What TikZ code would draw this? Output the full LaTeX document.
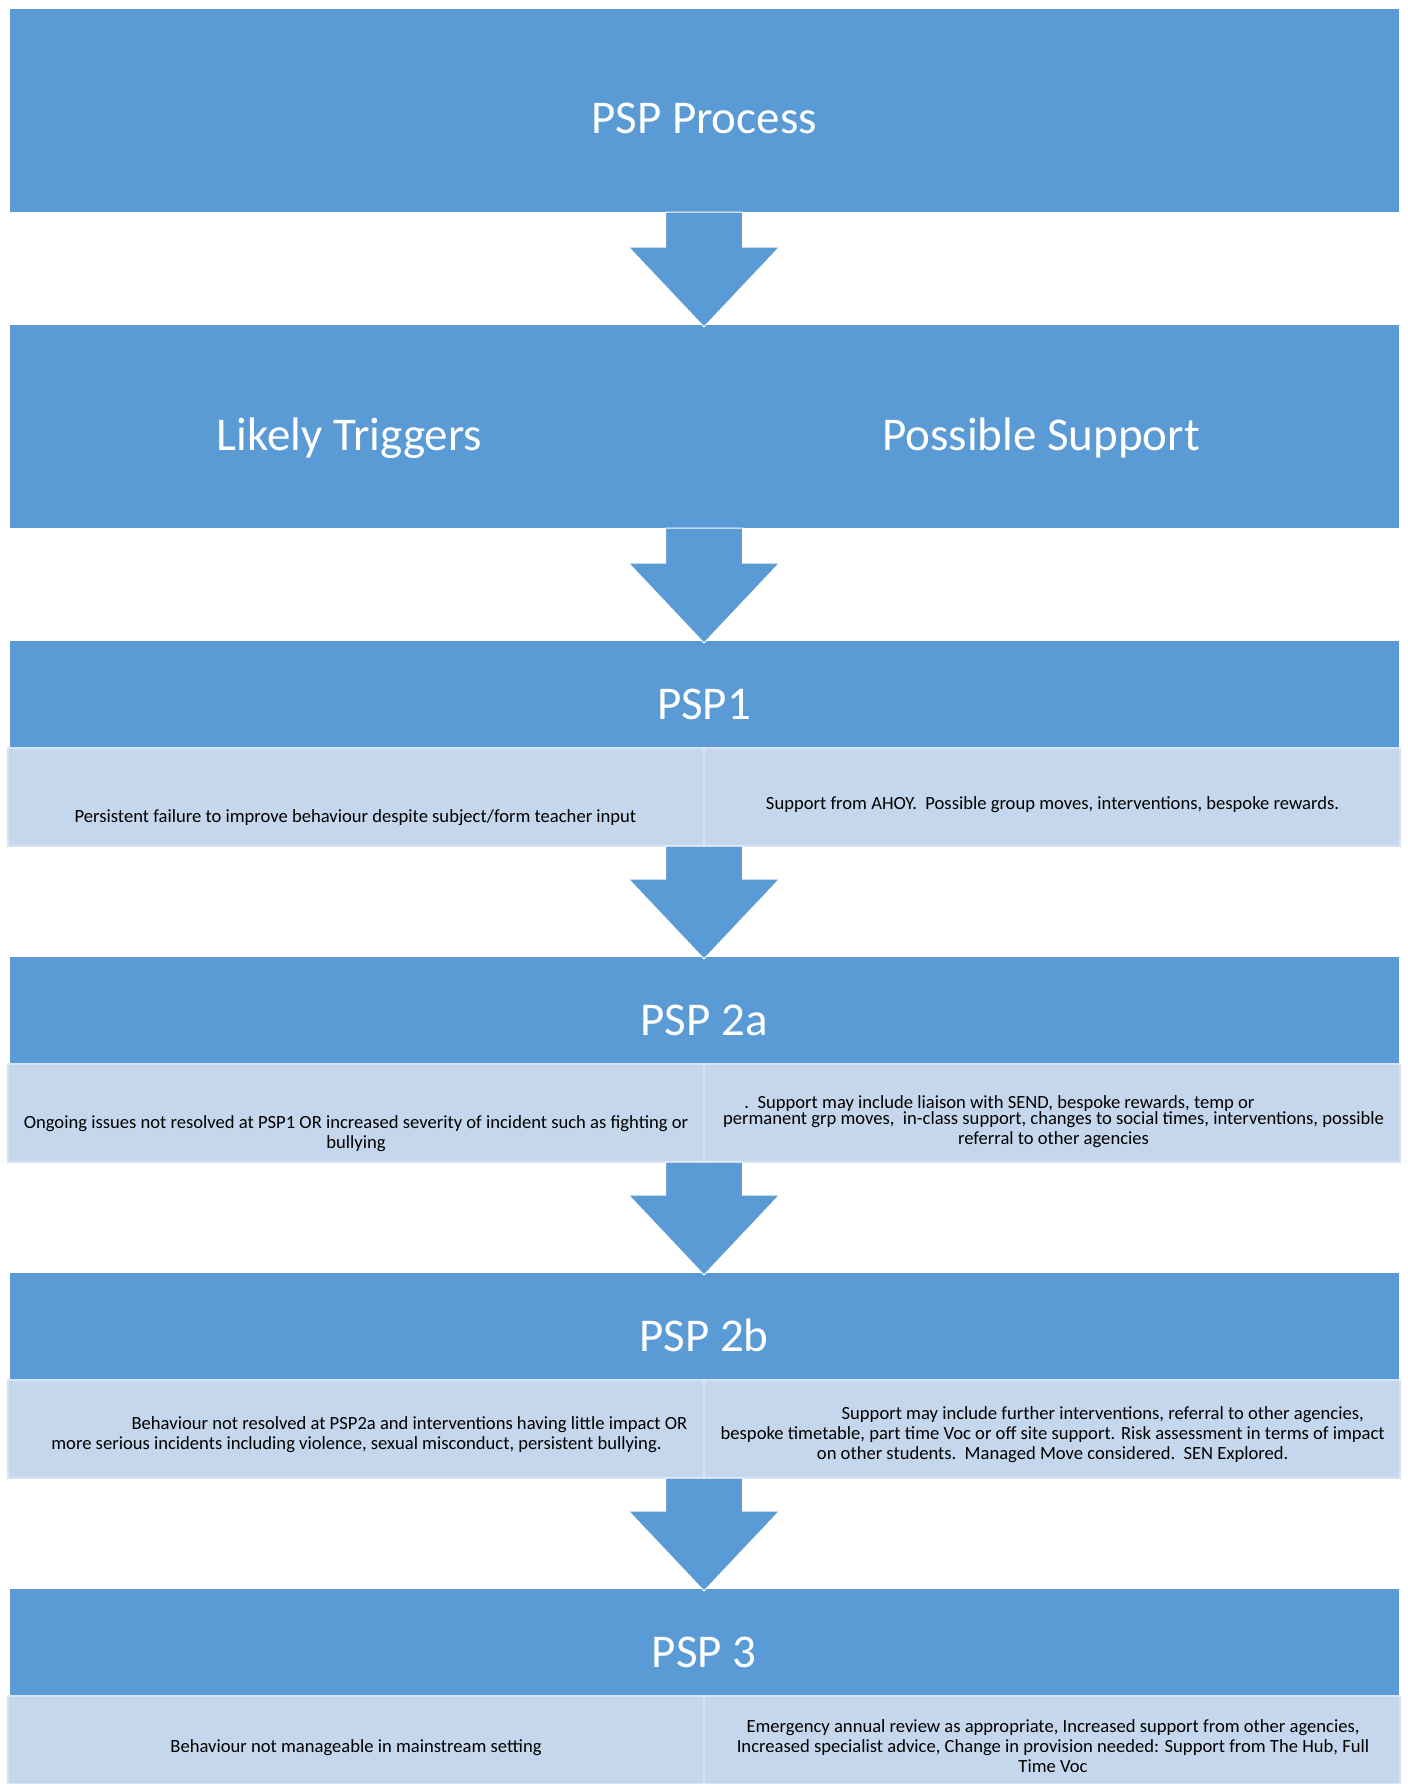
\documentclass[tikz,border=0pt]{standalone}
\usepackage{fontspec}
\setmainfont{Carlito}
\definecolor{psblue}{RGB}{91,155,213}
\definecolor{pslight}{RGB}{197,215,236}
\definecolor{psedge}{RGB}{216,228,243}
\begin{document}
\begin{tikzpicture}[x=0.5pt,y=-0.5pt,inner sep=0pt,outer sep=0pt,
bigbox/.style={rectangle,fill=psblue,draw=white,line width=.5pt,minimum width=695pt,minimum height=102pt,anchor=north},
headbox/.style={bigbox,minimum height=54pt},
infobox/.style={rectangle,fill=pslight,draw=psedge,line width=1pt,minimum width=696pt,minimum height=49pt,anchor=north},
headtext/.style={text=white,font=\fontsize{23.5}{28}\selectfont,anchor=base},
celltext/.style={align=center,font=\fontsize{9.3}{10}\selectfont},
flowarrow/.style={fill=psblue,draw=white,line width=.5pt}]

\useasboundingbox (0,0) rectangle (1408,1784);

\draw (704,8) node[bigbox] (proc) {};
\draw (704,324) node[bigbox] (trig) {};
\draw (704,640) node[headbox] (pspone) {};
\draw (704,748) node[infobox] (oneinfo) {};
\draw (704,956) node[headbox] (psptwoa) {};
\draw (704,1064) node[infobox] (twoainfo) {};
\draw (704,1272) node[headbox] (psptwob) {};
\draw (704,1380) node[infobox] (twobinfo) {};
\draw (704,1588) node[headbox] (pspthree) {};
\draw (704,1696) node[infobox,minimum height=44pt] (threeinfo) {};

\draw[psedge,line width=1pt] (oneinfo.north) -- (oneinfo.south);
\draw[psedge,line width=1pt] (twoainfo.north) -- (twoainfo.south);
\draw[psedge,line width=1pt] (twobinfo.north) -- (twobinfo.south);
\draw[psedge,line width=1pt] (threeinfo.north) -- (threeinfo.south);

\draw[flowarrow] ([xshift=-19.25pt]proc.south) |- ([xshift=-37.75pt,yshift=38.5pt]trig.north) -- ([yshift=-1.5pt]trig.north) -- ([xshift=37.75pt,yshift=38.5pt]trig.north) -| ([xshift=19.25pt]proc.south) -- cycle;
\draw[flowarrow] ([xshift=-19.25pt]trig.south) |- ([xshift=-37.75pt,yshift=38.5pt]pspone.north) -- ([yshift=-1.5pt]pspone.north) -- ([xshift=37.75pt,yshift=38.5pt]pspone.north) -| ([xshift=19.25pt]trig.south) -- cycle;
\draw[flowarrow] ([xshift=-19.25pt]oneinfo.south) |- ([xshift=-37.75pt,yshift=38.5pt]psptwoa.north) -- ([yshift=-1.5pt]psptwoa.north) -- ([xshift=37.75pt,yshift=38.5pt]psptwoa.north) -| ([xshift=19.25pt]oneinfo.south) -- cycle;
\draw[flowarrow] ([xshift=-19.25pt]twoainfo.south) |- ([xshift=-37.75pt,yshift=38.5pt]psptwob.north) -- ([yshift=-1.5pt]psptwob.north) -- ([xshift=37.75pt,yshift=38.5pt]psptwob.north) -| ([xshift=19.25pt]twoainfo.south) -- cycle;
\draw[flowarrow] ([xshift=-19.25pt]twobinfo.south) |- ([xshift=-37.75pt,yshift=38.5pt]pspthree.north) -- ([yshift=-1.5pt]pspthree.north) -- ([xshift=37.75pt,yshift=38.5pt]pspthree.north) -| ([xshift=19.25pt]twobinfo.south) -- cycle;

\draw (704,133) node[headtext] (proctext) {PSP Process};
\draw (349.5,450) node[headtext] (trigleft) {Likely Triggers};
\draw (1041,450) node[headtext] (trigright) {Possible Support};
\draw (704,719) node[headtext] (ponetext) {PSP1};
\draw (704,1035) node[headtext] (ptwoatext) {PSP 2a};
\draw (704,1351) node[headtext] (ptwobtext) {PSP 2b};
\draw (704,1667) node[headtext] (pthreetext) {PSP 3};

\draw (355.5,817.5) node[celltext] (oneleft) {Persistent failure to improve behaviour despite subject/form teacher input};
\draw (1052.5,804.3) node[celltext] (oneright) {Support from AHOY.\ \ Possible group moves, interventions, bespoke rewards.};
\draw (356,1133.5) node[celltext] (twoaleft) {Ongoing issues not resolved at PSP1 OR increased severity of incident such as fighting or\\ bullying};
\draw (1053.5,1121.5) node[celltext] (twoaright) {.\ \ Support may include liaison with SEND, bespoke rewards, temp or\hspace*{54pt}\\[-2pt] permanent grp moves,\ \ in-class support, changes to social times, interventions, possible\\ referral to other agencies};
\draw (356.5,1434.8) node[celltext] (twobleft) {\hspace*{53pt}Behaviour not resolved at PSP2a and interventions having little impact OR\\ more serious incidents including violence, sexual misconduct, persistent bullying.};
\draw (1052.7,1434.5) node[celltext] (twobright) {\hspace*{50pt}Support may include further interventions, referral to other agencies,\\ bespoke timetable, part time Voc or off site support. Risk assessment in terms of impact\\ on other students.\ \ Managed Move considered.\ \ SEN Explored.};
\draw (356,1748) node[celltext] (threeleft) {Behaviour not manageable in mainstream setting};
\draw (1053,1746.5) node[celltext] (threeright) {Emergency annual review as appropriate, Increased support from other agencies,\\ Increased specialist advice, Change in provision needed: Support from The Hub, Full\\ Time Voc};

\end{tikzpicture}
\end{document}
